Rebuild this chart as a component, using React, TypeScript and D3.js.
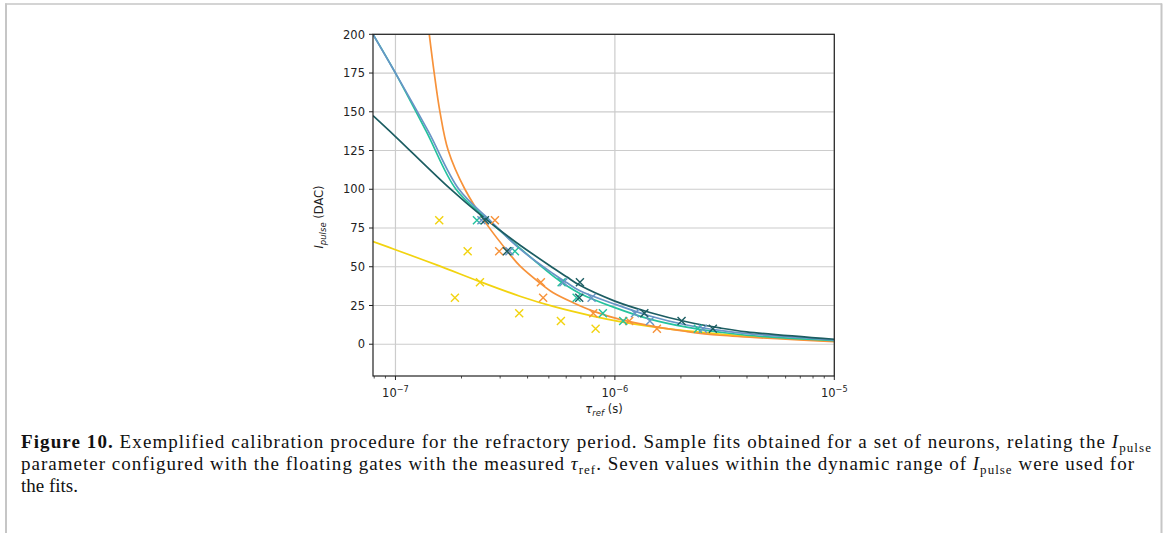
import React from 'react';
import * as d3 from 'd3';

const W = 1165;
const H = 533;

// Pulse current levels (DAC) used for the calibration
const iLevels = [80, 60, 40, 30, 20, 15, 10];

// Measured refractory periods (s) per neuron, matching iLevels
const tauYellow = [1.583e-7, 2.133e-7, 2.427e-7, 1.866e-7, 3.664e-7, 5.675e-7, 8.17e-7];
const tauOrange = [2.84e-7, 2.97e-7, 4.6e-7, 4.71e-7, 7.97e-7, 1.162e-6, 1.554e-6];
const tauGreen = [2.351e-7, 3.503e-7, 5.718e-7, 6.693e-7, 8.815e-7, 1.091e-6, 2.388e-6];
const tauBlue = [2.465e-7, 3.307e-7, 5.827e-7, 7.83e-7, 1.234e-6, 1.444e-6, 2.517e-6];
const tauDark = [2.557e-7, 3.221e-7, 6.928e-7, 6.878e-7, 1.362e-6, 2.013e-6, 2.796e-6];

// Fitted curves: [tau (s), I_pulse (DAC)]
const fitYellow: [number, number][] = [
  [7.9e-8, 66.3], [1.0e-7, 61.0], [1.595e-7, 50.4], [2.427e-7, 40.4], [3.691e-7, 31.0],
  [5.236e-7, 24.4], [8.023e-7, 18.0], [1.054e-6, 14.6], [1.494e-6, 11.2], [2.122e-6, 8.6],
  [3.009e-6, 6.6], [3.981e-6, 5.2], [1.0e-5, 2.0],
];
const fitOrange: [number, number][] = [
  [1.426e-7, 200], [1.502e-7, 175], [1.595e-7, 150], [1.74e-7, 125], [2.073e-7, 100],
  [2.604e-7, 77.5], [3.324e-7, 58], [3.691e-7, 50.5], [4.553e-7, 39.5], [5.236e-7, 33.2],
  [6.457e-7, 26.8], [8.023e-7, 21.2], [1.054e-6, 16], [1.494e-6, 11.5], [2.122e-6, 8.2],
  [3.009e-6, 5.8], [1.0e-5, 1.6],
];
const fitGreen: [number, number][] = [
  [7.9e-8, 200], [1.0e-7, 175], [1.38e-7, 137.5], [1.887e-7, 100],
  [2.604e-7, 81], [3.691e-7, 62], [5.236e-7, 44], [6.026e-7, 37.8], [6.926e-7, 32.8],
  [9.926e-7, 23.8], [1.444e-6, 16.2], [2.122e-6, 11.0], [3.009e-6, 7.8], [3.981e-6, 5.8],
  [1.0e-5, 2.3],
];
const fitBlue: [number, number][] = [
  [7.9e-8, 200], [1.0e-7, 175], [1.41e-7, 137.5], [1.947e-7, 100],
  [2.695e-7, 80], [3.691e-7, 61.5], [5.236e-7, 45.5], [6.026e-7, 39.8], [6.926e-7, 34.5],
  [9.926e-7, 26.0], [1.444e-6, 18.2], [2.122e-6, 12.4], [3.009e-6, 8.9], [3.981e-6, 6.9],
  [1.0e-5, 2.8],
];
const fitDark: [number, number][] = [
  [7.9e-8, 147.5], [1.0e-7, 134], [1.753e-7, 101], [2.512e-7, 82], [3.566e-7, 65.5],
  [5.236e-7, 49.2], [6.026e-7, 43.5], [6.926e-7, 38], [9.926e-7, 28], [1.444e-6, 20.5],
  [2.122e-6, 14.5], [3.009e-6, 10.5], [3.981e-6, 8.0], [1.0e-5, 3.2],
];

const seriesColors = ['#f2d30f', '#f7923a', '#25c29e', '#6894c6', '#1c5d62'];
const seriesTaus = [tauYellow, tauOrange, tauGreen, tauBlue, tauDark];
const seriesFits = [fitYellow, fitOrange, fitGreen, fitBlue, fitDark];

const xMajorTicks = [1e-7, 1e-6, 1e-5];
const xTickExps = ['−7', '−6', '−5'];
const yTicks = [0, 25, 50, 75, 100, 125, 150, 175, 200];

const X_DOMAIN: [number, number] = [7.9e-8, 1e-5];
const Y_DOMAIN: [number, number] = [-20.5, 200];

export default function App() {
  const left = 373, right = 834.3, top = 34.3, bottom = 376;
  const x = d3.scaleLog().domain(X_DOMAIN).range([left, right]);
  const y = d3.scaleLinear().domain(Y_DOMAIN).range([bottom, top]);

  const minorTicks: number[] = [];
  for (let e = -8; e <= -6; e++) {
    for (let k = 2; k <= 9; k++) {
      const v = k * Math.pow(10, e);
      if (v > X_DOMAIN[0] && v < X_DOMAIN[1]) minorTicks.push(v);
    }
  }

  const line = d3
    .line<[number, number]>()
    .x((d) => x(d[0]))
    .y((d) => y(d[1]))
    .curve(d3.curveCatmullRom.alpha(0.5));

  const tickFont = 'DejaVu Sans, sans-serif';
  const tickSize = 11.5;
  const grid = '#cccccc';
  const axisColor = '#222';
  const capFont = 'Liberation Serif, Times New Roman, serif';
  const capSize = 19;
  const subSize = 13;
  const m = 4; // marker half-size

  return (
    <svg
      width={W}
      height={H}
      style={{ position: 'absolute', left: 0, top: 0, background: '#fff' }}
      xmlns="http://www.w3.org/2000/svg"
    >
      <rect x={0} y={0} width={W} height={H} fill="#fff" />
      {/* page frame */}
      <line x1={5} x2={1162} y1={4} y2={4} stroke="#c6c6c6" strokeWidth={1.5} />
      <line x1={6} x2={6} y1={3.5} y2={H} stroke="#c6c6c6" strokeWidth={2} />
      <line x1={1161.5} x2={1161.5} y1={3.5} y2={H} stroke="#c6c6c6" strokeWidth={2} />

      <defs>
        <clipPath id="plotClip">
          <rect x={left} y={top} width={right - left} height={bottom - top} />
        </clipPath>
      </defs>

      {/* grid */}
      <g>
        {yTicks.map((t) => (
          <line key={'gy' + t} x1={left} x2={right} y1={y(t)} y2={y(t)} stroke={grid} strokeWidth={1.2} />
        ))}
        {xMajorTicks.map((t) => (
          <line key={'gx' + t} x1={x(t)} x2={x(t)} y1={top} y2={bottom} stroke={grid} strokeWidth={1.2} />
        ))}
      </g>

      {/* fits and markers */}
      <g clipPath="url(#plotClip)">
        {seriesFits.map((f, i) => (
          <path key={'f' + i} d={line(f) || ''} fill="none" stroke={seriesColors[i]} strokeWidth={1.7} />
        ))}
        {seriesTaus.map((taus, i) =>
          taus.map((t, j) => {
            const cx = x(t);
            const cy = y(iLevels[j]);
            return (
              <path
                key={'m' + i + '-' + j}
                d={`M${cx - m},${cy - m}L${cx + m},${cy + m}M${cx - m},${cy + m}L${cx + m},${cy - m}`}
                stroke={seriesColors[i]}
                strokeWidth={1.4}
                fill="none"
              />
            );
          })
        )}
      </g>

      {/* spines */}
      <rect x={left} y={top} width={right - left} height={bottom - top} fill="none" stroke={axisColor} strokeWidth={1.2} />

      {/* y ticks */}
      {yTicks.map((t) => (
        <g key={'yt' + t}>
          <line x1={left - 4} x2={left} y1={y(t)} y2={y(t)} stroke={axisColor} strokeWidth={1} />
          <text x={left - 8} y={y(t) + 4.2} textAnchor="end" fontFamily={tickFont} fontSize={tickSize} fill="#222">
            {t}
          </text>
        </g>
      ))}

      {/* x ticks */}
      {xMajorTicks.map((t, i) => (
        <g key={'xt' + t}>
          <line x1={x(t)} x2={x(t)} y1={bottom} y2={bottom + 4} stroke={axisColor} strokeWidth={1} />
          <text x={x(t)} y={bottom + 21} textAnchor="middle" fontFamily={tickFont} fontSize={tickSize} fill="#222">
            10
            <tspan fontSize={8.2} dy={-5}>
              {xTickExps[i]}
            </tspan>
          </text>
        </g>
      ))}
      {minorTicks.map((t) => (
        <line key={'mt' + t} x1={x(t)} x2={x(t)} y1={bottom} y2={bottom + 2.5} stroke={axisColor} strokeWidth={0.8} />
      ))}

      {/* axis labels */}
      <text
        transform={`translate(${323},${217}) rotate(-90)`}
        textAnchor="middle"
        fontFamily={tickFont}
        fontSize={tickSize}
        fill="#222"
      >
        <tspan fontStyle="italic">I</tspan>
        <tspan fontStyle="italic" fontSize={8.5} dy={3}>
          pulse
        </tspan>
        <tspan dy={-3}> (DAC)</tspan>
      </text>
      <text x={604} y={413} textAnchor="middle" fontFamily={tickFont} fontSize={tickSize} fill="#222">
        <tspan fontStyle="italic">τ</tspan>
        <tspan fontStyle="italic" fontSize={8.5} dy={3}>
          ref
        </tspan>
        <tspan dy={-3}> (s)</tspan>
      </text>

      {/* caption */}
      <text x={21} y={448} fontFamily={capFont} fontSize={capSize} fill="#111" textLength={1130} lengthAdjust="spacing">
        <tspan fontWeight="bold">Figure 10.</tspan> Exemplified calibration procedure for the refractory period. Sample fits
        obtained for a set of neurons, relating the <tspan fontStyle="italic">I</tspan>
        <tspan fontSize={subSize} dy={4}>
          pulse
        </tspan>
      </text>
      <text x={21} y={470} fontFamily={capFont} fontSize={capSize} fill="#111" textLength={1113} lengthAdjust="spacing">
        parameter configured with the floating gates with the measured <tspan fontStyle="italic">τ</tspan>
        <tspan fontSize={subSize} dy={4}>
          ref
        </tspan>
        <tspan dy={-4}>. Seven values within the dynamic range of </tspan>
        <tspan fontStyle="italic">I</tspan>
        <tspan fontSize={subSize} dy={4}>
          pulse
        </tspan>
        <tspan dy={-4}> were used for</tspan>
      </text>
      <text x={21} y={492} fontFamily={capFont} fontSize={capSize} fill="#111">
        the fits.
      </text>
    </svg>
  );
}
